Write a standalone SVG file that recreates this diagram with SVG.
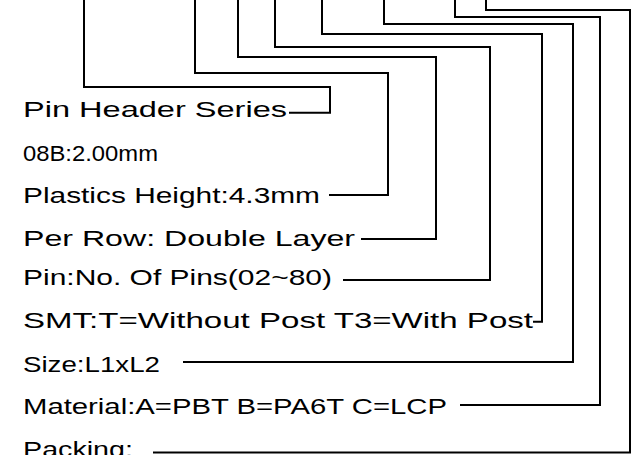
<svg xmlns="http://www.w3.org/2000/svg" width="639" height="455" viewBox="0 0 639 455">
<style>
.t{font-family:"Liberation Sans",Arial,sans-serif;font-size:22px;fill:#000;}
.c path{fill:none;stroke:#000;stroke-width:2;}
</style>
<rect width="639" height="455" fill="#fff"/>
<g id="connectors" class="c">
<path d="M289,112.7 H330 V87 H84 V-2"/>
<path d="M329,195 H388 V73 H195 V-2"/>
<path d="M361,239 H436 V57 H238 V-2"/>
<path d="M343,280 H490 V47 H275 V-2"/>
<path d="M533,321.7 H542 V34 H322 V-2"/>
<path d="M183,362 H573 V24 H384 V-2"/>
<path d="M460,405 H600 V17 H455 V-2"/>
<path d="M153,452.5 H630 V10 H486 V-2"/>
</g>
<g id="series"><text class="t" x="23" y="117" textLength="264" lengthAdjust="spacingAndGlyphs">Pin Header Series</text></g>
<g id="pitch"><text class="t" x="23" y="161" textLength="135" lengthAdjust="spacingAndGlyphs">08B:2.00mm</text></g>
<g id="height"><text class="t" x="23" y="203" textLength="297" lengthAdjust="spacingAndGlyphs">Plastics Height:4.3mm</text></g>
<g id="row"><text class="t" x="23" y="246" textLength="332" lengthAdjust="spacingAndGlyphs">Per Row: Double Layer</text></g>
<g id="pins"><text class="t" x="23" y="285" textLength="309" lengthAdjust="spacingAndGlyphs">Pin:No. Of Pins(02~80)</text></g>
<g id="smt"><text class="t" x="23" y="328" textLength="510" lengthAdjust="spacingAndGlyphs">SMT:T=Without Post T3=With Post</text></g>
<g id="size"><text class="t" x="23" y="372" textLength="137" lengthAdjust="spacingAndGlyphs">Size:L1xL2</text></g>
<g id="material"><text class="t" x="23" y="414" textLength="424" lengthAdjust="spacingAndGlyphs">Material:A=PBT B=PA6T C=LCP</text></g>
<g id="packing"><text class="t" x="23" y="457" textLength="110" lengthAdjust="spacingAndGlyphs">Packing:</text></g>
</svg>
